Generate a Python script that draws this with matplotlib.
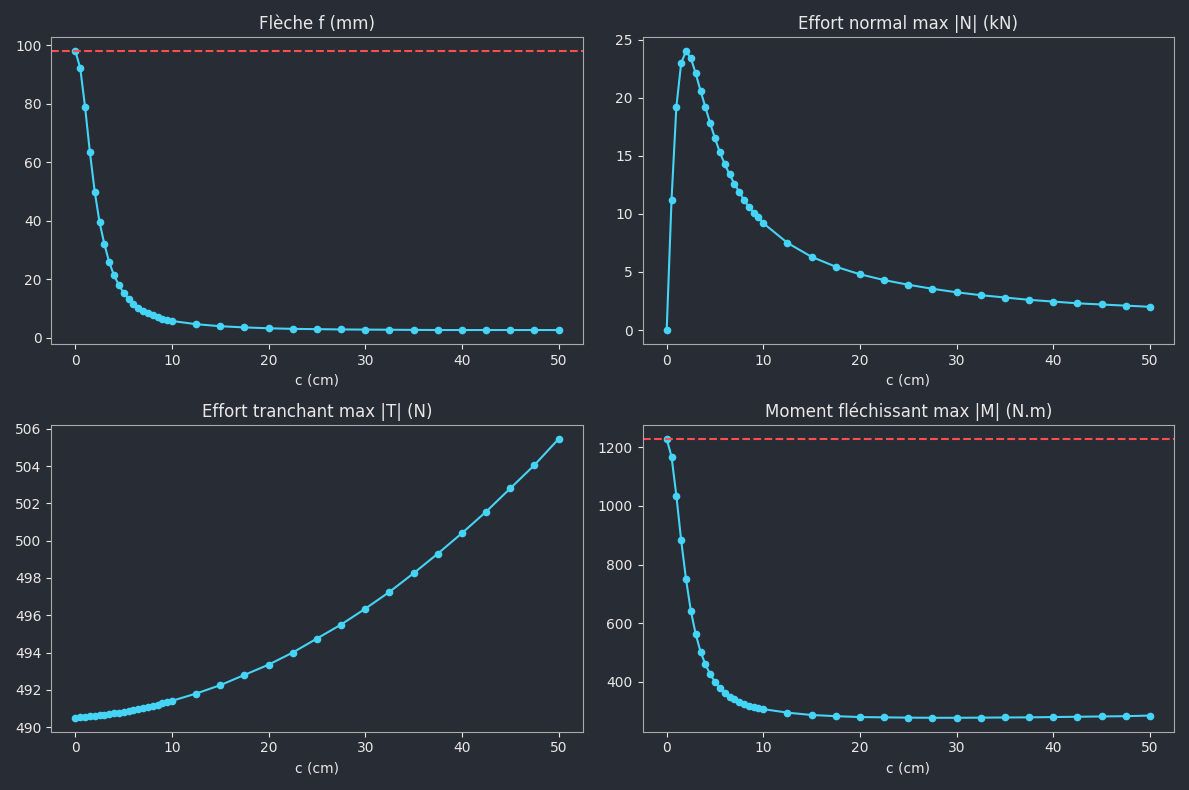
import matplotlib
matplotlib.use("Agg")
import matplotlib.pyplot as plt
import numpy as np

c_cm = [i * 0.5 for i in range(21)] + [12.5 + 2.5 * i for i in range(16)]

fleche = [98, 92.3, 79, 63.5, 50, 39.5, 32, 25.8, 21.3, 18, 15.3, 13.3, 11.6, 10.3,
          9.2, 8.3, 7.6, 7.0, 6.5, 6.1, 5.7,
          4.6, 3.9, 3.5, 3.2, 3.0, 2.9, 2.8, 2.75, 2.7, 2.65, 2.6, 2.6, 2.6, 2.6, 2.6, 2.6]
normal = [0, 11.2, 19.2, 23, 24, 23.4, 22.1, 20.6, 19.2, 17.8, 16.5, 15.3, 14.3, 13.4,
          12.6, 11.9, 11.2, 10.6, 10.1, 9.7, 9.2,
          7.5, 6.3, 5.45, 4.8, 4.3, 3.9, 3.55, 3.25, 3.0, 2.8, 2.6, 2.45, 2.3, 2.2, 2.1, 2.0]
tranchant = [490.50, 490.52, 490.54, 490.57, 490.60, 490.63, 490.66, 490.70, 490.74,
             490.78, 490.82, 490.87, 490.92, 490.97, 491.03, 491.09, 491.15, 491.21,
             491.27, 491.34, 491.41,
             491.8, 492.25, 492.8, 493.35, 494.0, 494.75, 495.5, 496.35, 497.25, 498.25,
             499.3, 500.4, 501.55, 502.8, 504.05, 505.45]
moment = [1228, 1168, 1035, 882, 750, 642, 563, 503, 460, 426, 400, 380, 363, 350, 340,
          332, 325, 319, 314, 310, 307,
          295, 287, 283, 280, 279, 278, 277.5, 277.5, 278, 278.5, 279, 280, 281, 282, 283, 285]

panels = [
    ("Flèche f (mm)", fleche, True),
    ("Effort normal max |N| (kN)", normal, False),
    ("Effort tranchant max |T| (N)", tranchant, False),
    ("Moment fléchissant max |M| (N.m)", moment, True),
]

BG = "#282c34"
FG = "#e8e8e8"
LINE = "#45d4f5"

fig, axes = plt.subplots(2, 2, figsize=(11.89, 7.9), dpi=100)
fig.patch.set_facecolor(BG)
for ax, (title, ys, ref) in zip(axes.flat, panels):
    ax.set_facecolor(BG)
    ax.plot(c_cm, ys, marker="o", markersize=4.5, color=LINE, lw=1.5)
    if ref:
        ax.axhline(ys[0], color="#ff4d4d", ls="--", lw=1.5)
    ax.set_title(title, color=FG, fontsize=12)
    ax.set_xlabel("c (cm)", color=FG)
    ax.tick_params(colors=FG)
    for s in ax.spines.values():
        s.set_color("#aaaaaa")
fig.tight_layout()
fig.savefig("out.png", dpi=100, facecolor=BG)
